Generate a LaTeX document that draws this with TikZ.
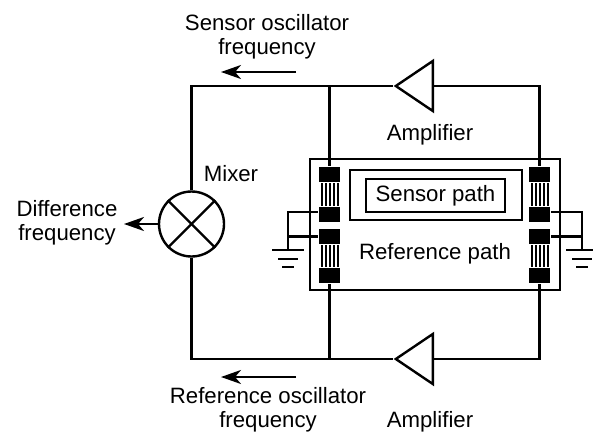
\documentclass[tikz,border=0pt]{standalone}
\usepackage{fontspec}
\setmainfont{Liberation Sans}
\usetikzlibrary{arrows.meta,positioning,shapes,calc}

\begin{document}
\begin{tikzpicture}[x=1pt, y=-1pt, line width=2.4pt, >={Stealth[length=20pt,width=14pt,inset=6pt]},
                    every node/.style = {font=\fontsize{22.2}{24}\selectfont},
                    label text/.style = {align=center, inner sep=0pt},
                    mixer/.style = {circle, draw, fill=white, minimum size=65pt, inner sep=0pt},
                    amplifier/.style = {isosceles triangle, isosceles triangle stretches, draw, fill=white, shape border rotate=180,
                            minimum width=50pt, minimum height=37pt, inner sep=0pt, anchor=lower side},
                    pathbox/.style = {rectangle, draw, inner sep=0pt},
                    transducer/.style = {rectangle, fill=black, minimum width=21pt, minimum height=15.5pt, inner sep=0pt},
                    gbar/.style = {line width=2.4pt} ]

                \useasboundingbox (0,0) rectangle (593,433);

                % substrate and paths
                \node [pathbox, minimum width=250pt, minimum height=131pt] (substrate) at (435,224.5){};
                \node [pathbox, minimum width=172pt, minimum height=50pt] (refpath) at (436,195){};
                \node [pathbox, minimum width=139pt, minimum height=33pt] (sensorbox) at (435.5,195.5) {Sensor path};
                \node [label text] (reflabel) at (435,254) {Reference path};

                % mixer and amplifiers
                \node [mixer] (mixer) at (191.5,224){};
                \draw (mixer.45) -- (mixer.225);
                \draw (mixer.135) -- (mixer.315);
                \node [amplifier] (amptop) at (434,86){};
                \node [amplifier] (ampbot) at (434,359){};

                % transducers
                \node [transducer] (lt1) at (329.5,174.5){};
                \node [transducer] (lt2) at (329.5,214.5){};
                \node [transducer] (lb1) at (329.5,236.5){};
                \node [transducer] (lb2) at (329.5,275.5){};
                \node [transducer] (rt1) at (539.5,174.5){};
                \node [transducer] (rt2) at (539.5,214.5){};
                \node [transducer] (rb1) at (539.5,236.5){};
                \node [transducer] (rb2) at (539.5,275.5){};

                \foreach \a/\b in {lt1/lt2, lb1/lb2, rt1/rt2, rb1/rb2}
                    \foreach \dx in {-8,-4,0,4,8}
                        \draw [line width=2pt] ($(\a.south)+(\dx,0)$) -- ($(\b.north)+(\dx,0)$);

                % oscillator loops
                \coordinate (topleft) at (mixer.north |- amptop.apex);
                \coordinate (botleft) at (mixer.south |- ampbot.apex);
                \coordinate (topright) at (rt1.north |- amptop.apex);
                \coordinate (botright) at (rb2.south |- ampbot.apex);
                \coordinate (topmid) at (lt1.north |- amptop.apex);
                \coordinate (botmid) at (lb2.south |- ampbot.apex);
                \draw (mixer.north) -- (topleft) -- (topmid) -- (amptop.apex);
                \draw (amptop.lower side) -- (topright) -- (rt1.north);
                \draw (topmid) -- (lt1.north);
                \draw (mixer.south) -- (botleft) -- (botmid) -- (ampbot.apex);
                \draw (ampbot.lower side) -- (botright) -- (rb2.south);
                \draw (botmid) -- (lb2.south);

                % grounds
                \coordinate (gndl) at (288,250);
                \coordinate (gndr) at (582,250);
                \draw (lt2.west) ++(0,-2.5) coordinate (lt2w) -| (gndl);
                \draw (lb1.west) -- (lb1.west -| gndl);
                \draw (rt2.east) ++(0,-2.5) coordinate (rt2e) -| (gndr);
                \draw (rb1.east) -- (rb1.east -| gndr);
                \foreach \g in {gndl,gndr} {
                    \draw [gbar] ($(\g)+(-16,0)$) -- ($(\g)+(16,0)$);
                    \draw [gbar] ($(\g)+(-10,9)$) -- ($(\g)+(10,9)$);
                    \draw [gbar] ($(\g)+(-6,17)$) -- ($(\g)+(6,17)$);
                }

                % arrows
                \coordinate (diffend) at (124,224);
                \draw [->] (mixer.west) -- (diffend);
                \coordinate (sensa) at (296,72);
                \coordinate (sensb) at (221,72);
                \draw [->] (sensa) -- (sensb);
                \coordinate (refa) at (296,377);
                \coordinate (refb) at (221,377);
                \draw [->] (refa) -- (refb);

                % labels
                \node [label text] (sensorlabel) at (267,36.5) {Sensor oscillator\\frequency};
                \node [label text] (amptoplabel) at (430,135) {Amplifier};
                \node [label text] (mixerlabel) at (231,174) {Mixer};
                \node [label text] (difflabel) at (67,223) {Difference\\frequency};
                \node [label text] (refosclabel) at (268,409.5) {Reference oscillator\\frequency};
                \node [label text] (ampbotlabel) at (430,422) {Amplifier};
            \end{tikzpicture}
\end{document}
